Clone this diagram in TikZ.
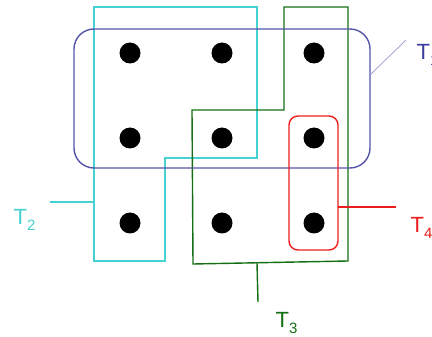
\documentclass[tikz,border=0pt]{standalone}
\usepackage{fontspec}
\setmainfont{Liberation Sans}
\usetikzlibrary{positioning}

\definecolor{tblue}{RGB}{85,85,170}
\definecolor{tbluetext}{RGB}{60,60,160}
\definecolor{tcyan}{RGB}{70,210,210}
\definecolor{tgreen}{RGB}{20,110,20}
\definecolor{tred}{RGB}{235,30,30}

\newcommand{\setlabel}[1]{{\fontsize{22}{22}\selectfont T}\raisebox{-6pt}{\fontsize{15}{15}\selectfont #1}}

\begin{document}
\begin{tikzpicture}[x=1pt, y=-1pt, line width=1.4pt,
  dot/.style={circle, fill=black, minimum size=21pt, inner sep=0pt},
  lab/.style={anchor=base west, inner sep=0pt}]
  \useasboundingbox (0,0) rectangle (432,337);

  % Points
  \node[dot] (a1) at (130,53)  {};
  \node[dot] (a2) at (222,53)  {};
  \node[dot] (a3) at (314,53)  {};
  \node[dot] (b1) at (130,138) {};
  \node[dot] (b2) at (222,138) {};
  \node[dot] (b3) at (314,138) {};
  \node[dot] (c1) at (130,223) {};
  \node[dot] (c2) at (222,223) {};
  \node[dot] (c3) at (314,223) {};

  % T_2 (cyan)
  \draw[tcyan] (94,7) -- (257,7) -- (257,158) -- (165,158) -- (165,261) -- (94,261) -- cycle;

  % T_3 (green)
  \draw[tgreen] (284,7) -- (348,7) -- (348,261) -- (193,264) -- (192,110) -- (284,110) -- cycle;

  % T_1 (blue)
  \draw[tblue, rounded corners=20pt] (74,29) rectangle (370,168);

  % T_4 (red)
  \draw[tred, rounded corners=9pt] (289,116) rectangle (338,250);

  % Labels
  \node[lab, text=tbluetext] (t1) at (416,60)  {\setlabel{1}};
  \node[lab, text=tcyan]     (t2) at (13,225)  {\setlabel{2}};
  \node[lab, text=tgreen]    (t3) at (275,327) {\setlabel{3}};
  \node[lab, text=tred]      (t4) at (410,233) {\setlabel{4}};

  % Pointers from the sets to their labels
  \coordinate (p1a) at (370,75);  \coordinate (p1b) at (406,40);
  \coordinate (p2a) at (94,202);  \coordinate (p2b) at (50,202);
  \coordinate (p3a) at (257,263); \coordinate (p3b) at (258,302);
  \coordinate (p4a) at (338,207); \coordinate (p4b) at (396,207);
  \draw[tblue!60, line width=0.7pt] (p1a) -- (p1b);
  \draw[tcyan]  (p2a) -- (p2b);
  \draw[tgreen] (p3a) -- (p3b);
  \draw[tred]   (p4a) -- (p4b);
\end{tikzpicture}
\end{document}
